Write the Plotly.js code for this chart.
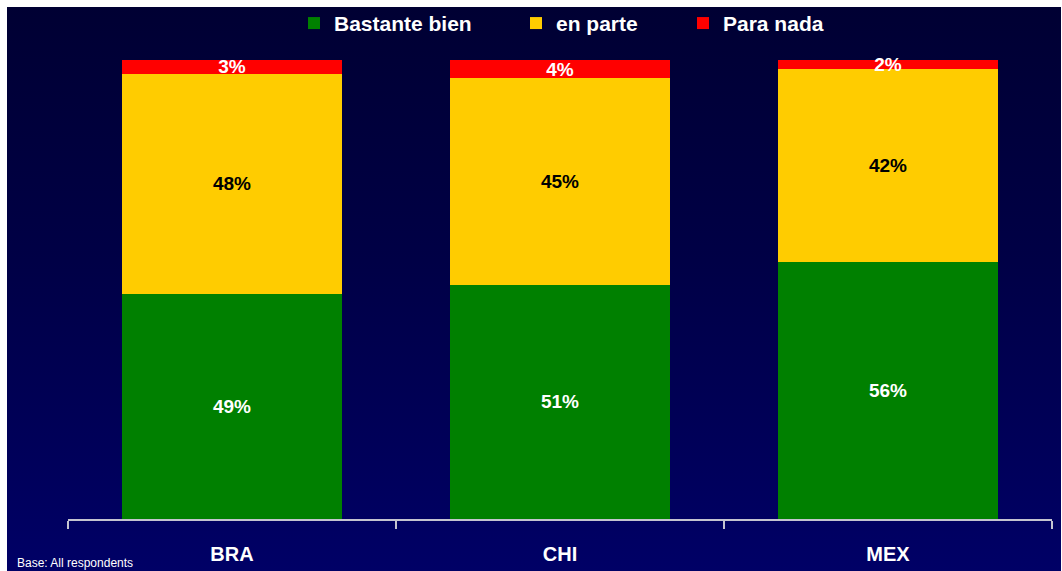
<!DOCTYPE html>
<html>
<head>
<meta charset="utf-8">
<script src="https://cdn.plot.ly/plotly-3.0.1.min.js"></script>
<style>
  html, body { margin:0; padding:0; background:#ffffff; }
  #bg { position:absolute; left:7px; top:7px; width:1054px; height:564px;
        background: linear-gradient(to bottom, #000033 0%, #000046 45%, #000066 100%); }
  #chart { position:absolute; left:0; top:0; width:1062px; height:571px; }
</style>
</head>
<body>
<div id="bg"></div>
<div id="chart"></div>
<script>
const categories = ['BRA', 'CHI', 'MEX'];
const bastanteBien = [49, 51, 56];
const enParte = [48, 45, 42];
const paraNada = [3, 4, 2];
const seriesNames = ['Bastante bien', 'en parte', 'Para nada'];
const footnote = 'Base: All respondents';

const FONT = 'Liberation Sans, Arial, sans-serif';
function pct(arr) { return arr.map(v => v + '%'); }

function barTrace(name, vals, color, txtColor, legendId) {
  return {
    type: 'bar', name: name, x: categories, y: vals, legend: legendId,
    marker: { color: color, line: { width: 0 } },
    text: pct(vals), textposition: 'inside', insidetextanchor: 'middle',
    textangle: 0, constraintext: 'none',
    textfont: { family: FONT, size: 19, color: txtColor, weight: 'bold' },
    hoverinfo: 'none', cliponaxis: false
  };
}

const data = [
  barTrace(seriesNames[0], bastanteBien, '#008000', '#ffffff', 'legend'),
  barTrace(seriesNames[1], enParte, '#FFCC00', '#000000', 'legend2'),
  barTrace(seriesNames[2], paraNada, '#FF0000', '#ffffff', 'legend3')
];

function legendAt(px) {
  return {
    orientation: 'h', xref: 'container', x: px / 1062, xanchor: 'left',
    yref: 'container', y: 0.959, yanchor: 'middle',
    font: { family: FONT, size: 21, color: '#ffffff', weight: 'bold' },
    bgcolor: 'rgba(0,0,0,0)', borderwidth: 0, itemclick: false
  };
}

const layout = {
  width: 1062, height: 571,
  barmode: 'stack', bargap: 0.33,
  paper_bgcolor: 'rgba(0,0,0,0)', plot_bgcolor: 'rgba(0,0,0,0)',
  margin: { l: 68, r: 10, t: 60, b: 52 },
  font: { family: FONT, color: '#ffffff' },
  uniformtext: { minsize: 19, mode: 'show' },
  showlegend: true,
  legend: legendAt(294),
  legend2: legendAt(516),
  legend3: legendAt(683),
  xaxis: {
    type: 'category', range: [-0.5, 2.5], fixedrange: true,
    showline: true, linecolor: '#C4C4D0', linewidth: 2,
    ticks: 'outside', tickson: 'boundaries', ticklen: 8, tickwidth: 2, tickcolor: '#C4C4D0',
    ticklabelstandoff: 16,
    tickfont: { family: FONT, size: 20, color: '#ffffff', weight: 'bold' },
    showgrid: false, zeroline: false
  },
  yaxis: {
    range: [0, 100], visible: false, fixedrange: true, showgrid: false, zeroline: false
  },
  annotations: [{
    text: footnote, xref: 'paper', yref: 'paper', x: (15 - 68) / 984, y: (519 - 563) / 459,
    xanchor: 'left', yanchor: 'middle', showarrow: false,
    font: { family: FONT, size: 12, color: '#ffffff' }
  }]
};

Plotly.newPlot('chart', data, layout, { displayModeBar: false, staticPlot: true });
</script>
</body>
</html>
